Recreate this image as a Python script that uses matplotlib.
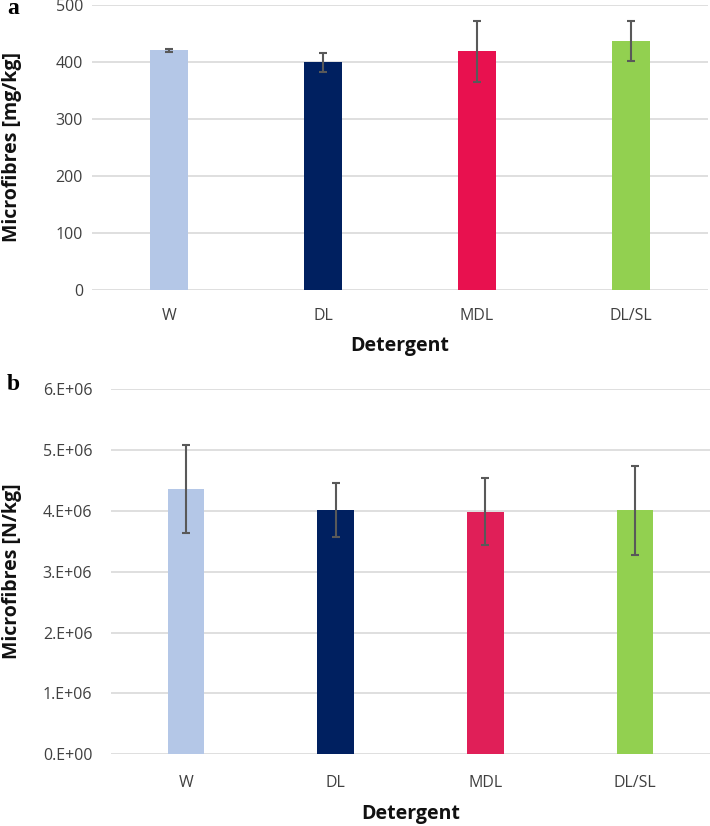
import matplotlib
matplotlib.use("Agg")
import matplotlib.pyplot as plt
from matplotlib.ticker import FuncFormatter

categories = ["W", "DL", "MDL", "DL/SL"]
mass_values = [421, 400, 419, 437]
mass_errors = [3, 17, 53, 35]
count_values = [4.36e6, 4.01e6, 3.98e6, 4.01e6]
count_errors = [0.72e6, 0.44e6, 0.55e6, 0.73e6]
mass_ticks = [0, 100, 200, 300, 400, 500]
count_ticks = [0, 1e6, 2e6, 3e6, 4e6, 5e6, 6e6]

colors_a = ["#B4C7E7", "#002060", "#E8114F", "#92D050"]
colors_b = ["#B4C7E7", "#002060", "#E01F58", "#92D050"]

plt.rcParams['font.family'] = ['Open Sans', 'DejaVu Sans']

fig = plt.figure(figsize=(7.1, 8.26), dpi=100)
W, H = 710, 826

def make_axes(x0, x1, ytop, ybot):
    return fig.add_axes([x0 / W, 1 - ybot / H, (x1 - x0) / W, (ybot - ytop) / H])

ax1 = make_axes(92, 708, 5.3, 289.7)
ax2 = make_axes(111, 710, 389, 754.3)

def style(ax, colors, values, errors, ticks, fmt, ylabel, ypad, xpad):
    x = list(range(len(categories)))
    ax.bar(x, values, width=0.245, color=colors, zorder=3)
    ax.errorbar(x, values, yerr=errors, fmt='none', ecolor='#595959',
                elinewidth=1.5, capsize=3, capthick=1.5, zorder=4)
    ax.set_xlim(-0.5, len(categories) - 0.5)
    ax.set_ylim(ticks[0], ticks[-1])
    ax.set_yticks(ticks)
    ax.yaxis.set_major_formatter(FuncFormatter(fmt))
    ax.set_xticks(x)
    ax.set_xticklabels(categories)
    ax.grid(axis='y', color='#D9D9D9', linewidth=1.2, zorder=0)
    ax.set_axisbelow(True)
    for s in ax.spines.values():
        s.set_visible(False)
    ax.tick_params(axis='both', length=0, labelsize=11.5, labelcolor='#404040')
    ax.tick_params(axis='x', pad=xpad)
    ax.tick_params(axis='y', pad=ypad)
    ax.set_xlabel("Detergent", fontsize=14, fontweight='bold', color='#111111')
    ax.set_ylabel(ylabel, fontsize=14, fontweight='bold', color='#111111')

style(ax1, colors_a, mass_values, mass_errors, mass_ticks,
      lambda v, p: f"{int(v)}", "Microfibres [mg/kg]", 6.5, 13.5)

def sci(v, p):
    if v == 0:
        return "0.E+00"
    e = 0
    m = v
    while m >= 10:
        m /= 10
        e += 1
    return f"{m:.0f}.E+{e:02d}"

style(ax2, colors_b, count_values, count_errors, count_ticks, sci,
      "Microfibres [N/kg]", 13.5, 15)

ax1.yaxis.set_label_coords(-70 / 616, 0.5)
ax2.yaxis.set_label_coords(-89 / 599, 0.5)
ax1.xaxis.set_label_coords(0.5, -(336 - 289.7) / 284.4)
ax2.xaxis.set_label_coords(0.5, -(804 - 754.3) / 365.3)

fig.text(7 / W, 1 - 9 / H, "a", family="Liberation Serif", fontweight='bold',
         fontsize=17, va='center', ha='left')
fig.text(7 / W, 1 - 385 / H, "b", family="Liberation Serif", fontweight='bold',
         fontsize=17, va='center', ha='left')

fig.savefig("out.png", dpi=100)
